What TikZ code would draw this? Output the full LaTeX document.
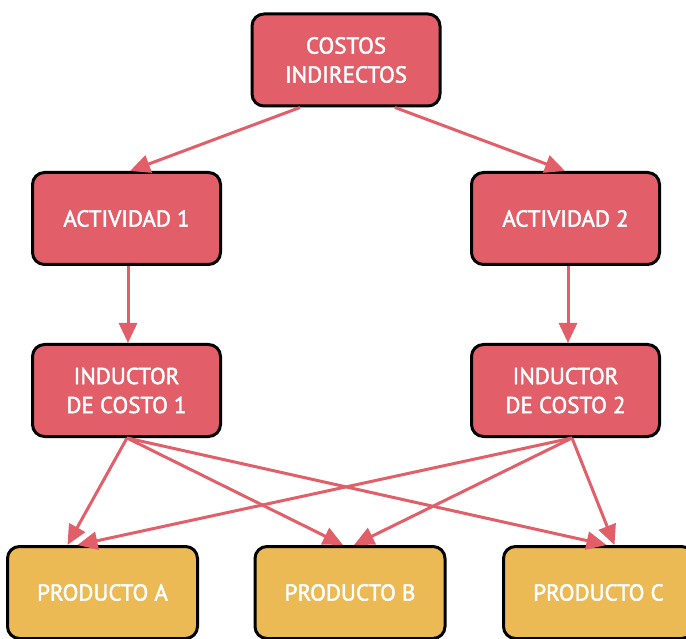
\documentclass[tikz,border=0pt]{standalone}
\usepackage{fontspec}
\setmainfont{PT Sans}[FakeBold=2]
\usepackage{xcolor}
\usepackage{tikz}
\usetikzlibrary{shapes,arrows.meta}
\usetikzlibrary{positioning}
\definecolor{costred}{HTML}{E25F69}
\definecolor{prodyellow}{HTML}{EBBA55}
\tikzstyle{block} = [rectangle, draw=black, line width=3pt, fill=costred,
    text=white, align=center, minimum width=188pt, minimum height=92pt,
    rounded corners=12pt, font=\fontsize{23}{29}\selectfont]
\tikzstyle{product} = [block, fill=prodyellow, minimum width=190pt]
\tikzstyle{line} = [draw=costred, line width=3pt,
    -{Triangle[length=20pt,width=18pt]}]

\begin{document}
\begin{tikzpicture}[x=1pt, y=-1pt, node distance=2cm, auto]
  \clip (0,0) rectangle (686,639);
  % Place nodes
  \node [block] (costos) at (346,60) {COSTOS\\INDIRECTOS};

  \node [block] (act1) at (126.5,218.5) {ACTIVIDAD 1};
  \node [block, right of=act1, node distance=439pt] (act2) {ACTIVIDAD 2};

  \node [block, below of=act1, node distance=172pt] (ind1) {INDUCTOR\\DE COSTO 1};
  \node [block, below of=act2, node distance=172pt] (ind2) {INDUCTOR\\DE COSTO 2};

  \node [product] (proda) at (102.5,592.5) {PRODUCTO A};
  \node [product, right of=proda, node distance=247.5pt] (prodb) {PRODUCTO B};
  \node [product, right of=prodb, node distance=248.5pt] (prodc) {PRODUCTO C};

  % Draw arrows
  \path [line] ([xshift=-46pt]costos.south) -- ([xshift=3.5pt]act1.north);
  \path [line] ([xshift=49pt]costos.south) -- ([xshift=-0.5pt]act2.north);

  \path [line] ([xshift=1.5pt]act1.south) -- ([xshift=1.5pt]ind1.north);
  \path [line] ([xshift=2.5pt]act2.south) -- ([xshift=2.5pt]ind2.north);

  \path [line] ([xshift=0.5pt]ind1.south) -- ([xshift=-35pt]proda.north);
  \path [line] ([xshift=0.5pt]ind1.south) -- ([xshift=-7pt]prodb.north);
  \path [line] ([xshift=0.5pt]ind1.south) -- ([xshift=8pt]prodc.north);

  \path [line] ([xshift=6.5pt]ind2.south) -- ([xshift=-25pt]proda.north);
  \path [line] ([xshift=6.5pt]ind2.south) -- ([xshift=4pt]prodb.north);
  \path [line] ([xshift=6.5pt]ind2.south) -- ([xshift=16pt]prodc.north);
\end{tikzpicture}
\end{document}
